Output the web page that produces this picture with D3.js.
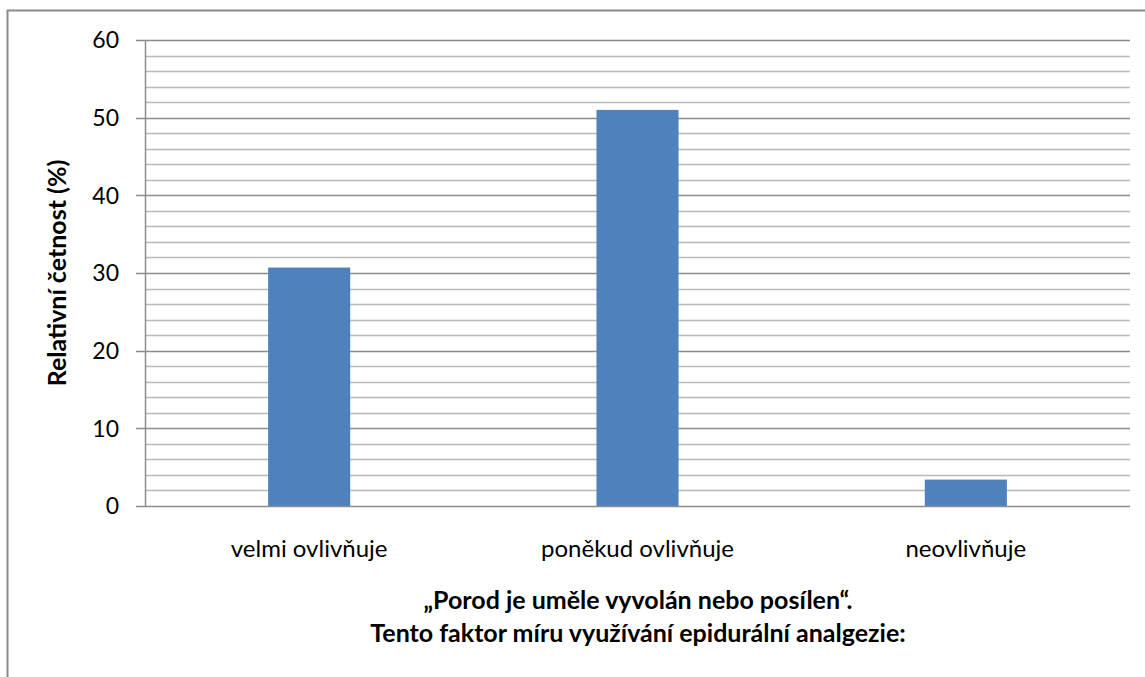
<!DOCTYPE html>
<html>
<head>
<meta charset="utf-8">
<script src="https://cdn.jsdelivr.net/npm/d3@7"></script>
<style>
  html, body { margin: 0; padding: 0; background: #fff; }
  svg { display: block; }
  text { font-family: Lato, "Open Sans", "Liberation Sans", sans-serif; fill: #000; }
</style>
</head>
<body>
<svg id="chart" width="1145" height="677"></svg>
<script>
// Response categories and their relative frequencies (%)
const categories = ["velmi ovlivňuje", "poněkud ovlivňuje", "neovlivňuje"];
const values = [30.7, 51.0, 3.4];
const majorTicks = [0, 10, 20, 30, 40, 50, 60];
const minorTicks = d3.range(0, 61, 2);
const yTitle = "Relativní četnost (%)";
const xTitleLines = ["„Porod je uměle vyvolán nebo posílen“.", "Tento faktor míru využívání epidurální analgezie:"];

const svg = d3.select("#chart");
const plot = { left: 145, right: 1130, top: 40, bottom: 506 };

// outer frame of the chart
svg.append("rect")
  .attr("x", 7.5).attr("y", 10.5)
  .attr("width", 1200).attr("height", 700)
  .attr("fill", "none").attr("stroke", "#8a8a8a").attr("stroke-width", 2);

const x = d3.scaleBand().domain(categories).range([plot.left, plot.right]);
const y = d3.scaleLinear().domain([0, 60]).range([plot.bottom, plot.top]);

// minor gridlines every 2 %
svg.append("g").selectAll("line").data(minorTicks.filter(v => v % 10 !== 0)).join("line")
  .attr("x1", plot.left).attr("x2", plot.right)
  .attr("y1", d => Math.round(y(d)) + 0.5).attr("y2", d => Math.round(y(d)) + 0.5)
  .attr("stroke", "#b9b9b9").attr("stroke-width", 1.5);

// major gridlines with outside tick marks
svg.append("g").selectAll("line").data(majorTicks.filter(v => v !== 0)).join("line")
  .attr("x1", plot.left - 9).attr("x2", plot.right)
  .attr("y1", d => Math.round(y(d)) + 0.5).attr("y2", d => Math.round(y(d)) + 0.5)
  .attr("stroke", "#8c8c8c").attr("stroke-width", 1.5);

// bars: a quarter of each category band, centred
const barW = x.bandwidth() * 0.25;
svg.append("g").selectAll("rect").data(values).join("rect")
  .attr("x", (d, i) => x(categories[i]) + (x.bandwidth() - barW) / 2)
  .attr("y", d => y(d))
  .attr("width", barW)
  .attr("height", d => y(0) - y(d))
  .attr("fill", "#4f81bd");

// value axis line and category axis line
svg.append("line")
  .attr("x1", plot.left + 0.5).attr("x2", plot.left + 0.5)
  .attr("y1", plot.top).attr("y2", plot.bottom)
  .attr("stroke", "#8c8c8c").attr("stroke-width", 1.5);
svg.append("line")
  .attr("x1", plot.left - 9).attr("x2", plot.right)
  .attr("y1", Math.round(y(0)) + 0.5).attr("y2", Math.round(y(0)) + 0.5)
  .attr("stroke", "#8c8c8c").attr("stroke-width", 1.5);

// tick labels
svg.append("g").selectAll("text").data(majorTicks).join("text")
  .attr("x", 119).attr("y", d => y(d))
  .attr("dy", "0.36em")
  .attr("text-anchor", "end")
  .attr("font-size", 23)
  .text(d => d);

// category labels
svg.append("g").selectAll("text").data(categories).join("text")
  .attr("x", d => x(d) + x.bandwidth() / 2)
  .attr("y", 557)
  .attr("text-anchor", "middle")
  .attr("font-size", 24)
  .text(d => d);

// axis titles
svg.append("text")
  .attr("transform", `translate(66, ${(plot.top + plot.bottom) / 2}) rotate(-90)`)
  .attr("text-anchor", "middle")
  .attr("font-size", 25).attr("font-weight", "bold")
  .text(yTitle);

svg.append("g").selectAll("text").data(xTitleLines).join("text")
  .attr("x", 638)
  .attr("y", (d, i) => 609 + i * 33)
  .attr("text-anchor", "middle")
  .attr("font-size", 25).attr("font-weight", "bold")
  .text(d => d);
</script>
</body>
</html>
